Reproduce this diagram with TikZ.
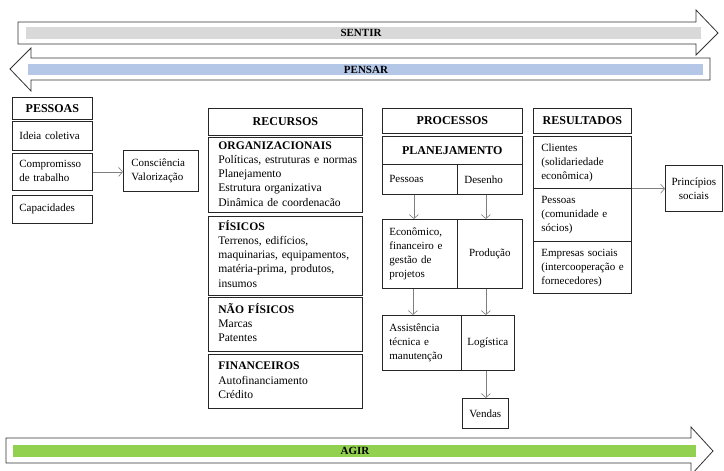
\documentclass[tikz,border=0pt]{standalone}
\usepackage{fontspec}
\setmainfont{Liberation Serif}
\usetikzlibrary{arrows.meta}
\definecolor{barGray}{HTML}{D9D9D9}
\definecolor{barBlue}{HTML}{B4C7E7}
\definecolor{barGreen}{HTML}{92D050}
\definecolor{lineGray}{HTML}{7F7F7F}
\newcommand\boxlines[1]{\begin{tabular}{@{}l@{}}#1\end{tabular}}
\begin{document}
\begin{tikzpicture}[x=1pt,y=-1pt,
  box/.style={draw=black!85, line width=0.7pt, rectangle, anchor=north west,
    inner ysep=0pt, font=\fontsize{11}{14}\selectfont},
  hd/.style={box, align=center, font=\bfseries\fontsize{12}{14}\selectfont},
  cbox/.style={box, align=center},
  lbox/.style={box, align=left, inner xsep=7pt},
  bigtxt/.style={font=\fontsize{11.6}{14.2}\selectfont},
  band/.style={draw=black!80, line width=0.8pt, fill=white},
  bandtxt/.style={font=\bfseries\fontsize{11}{12}\selectfont},
  arr/.style={draw=lineGray, line width=0.6pt, -{Straight Barb[length=4pt,width=9pt]}}
]
\clip (0,0) rectangle (724,471);
\fill[white] (0,0) rectangle (724,471);

% SENTIR band
\draw[band] (18,22) -- (696,22) -- (696,10) -- (718,33) -- (696,55) -- (696,44) -- (18,44) -- cycle;
\fill[barGray] (26,27) rectangle (701,39);
\node[bandtxt] (sentir) at (361,33) {SENTIR};

% PENSAR band
\draw[band] (710,58) -- (31,58) -- (31,48) -- (10,69) -- (31,91) -- (31,80) -- (710,80) -- cycle;
\fill[barBlue] (28,64) rectangle (703,75);
\node[bandtxt] (pensar) at (366,70) {PENSAR};

% AGIR band
\draw[band] (6,438) -- (691,438) -- (691,427) -- (713,451) -- (691,475) -- (691,463) -- (6,463) -- cycle;
\fill[barGreen] (13,445) rectangle (696,457);
\node[bandtxt] (agir) at (355,451) {AGIR};

% PESSOAS
\node[hd, minimum width=80, minimum height=22] (pH) at (12,97) {PESSOAS};
\node[lbox, text width=66, minimum height=29] (p1) at (12,121) {Ideia coletiva};
\node[lbox, text width=66, minimum height=37] (p2) at (12,153) {\boxlines{Compromisso\\de trabalho}};
\node[lbox, text width=66, minimum height=28] (p3) at (12,195) {Capacidades};
\node[lbox, inner xsep=8pt, text width=59, minimum height=41] (cons) at (123,150) {\boxlines{Consciência\\Valorização}};
\draw[arr] (p2.east) -- (p2.east -| cons.west);

% RECURSOS
\node[hd, minimum width=154, minimum height=27] (rH) at (208,108) {RECURSOS};
\node[lbox, bigtxt, inner xsep=10pt, text width=134, minimum height=75] (r1) at (208,137)
  {\boxlines{\textbf{ORGANIZACIONAIS}\\Políticas, estruturas e normas\\Planejamento\\Estrutura organizativa\\Dinâmica de coordenacão}};
\node[lbox, bigtxt, inner xsep=10pt, text width=134, minimum height=79] (r2) at (208,216)
  {\boxlines{\textbf{FÍSICOS}\\Terrenos, edifícios,\\maquinarias, equipamentos,\\matéria-prima, produtos,\\insumos}};
\node[lbox, bigtxt, inner xsep=10pt, text width=134, minimum height=54] (r3) at (208,297)
  {\boxlines{\textbf{NÃO FÍSICOS}\\Marcas\\Patentes}};
\node[lbox, bigtxt, inner xsep=10pt, text width=134, minimum height=54] (r4) at (208,354)
  {\boxlines{\textbf{FINANCEIROS}\\Autofinanciamento\\Crédito}};

% PROCESSOS
\node[hd, minimum width=140, minimum height=25] (cH) at (382,108) {PROCESSOS};
\node[hd, minimum width=140, minimum height=28] (c1) at (382,136) {PLANEJAMENTO};
\node[lbox, text width=61, minimum height=30] (c2) at (382,164) {Pessoas};
\node[lbox, text width=51, minimum height=30] (c3) at (457,164) {Desenho};
\node[lbox, text width=61, minimum height=69] (c4) at (382,219) {\boxlines{Econômico,\\financeiro e\\gestão de\\projetos}};
\node[cbox, minimum width=65, minimum height=69] (c5) at (457,219) {Produção};
\node[lbox, text width=65, minimum height=55] (c6) at (382,315) {\boxlines{Assistência\\técnica e\\manutenção}};
\node[cbox, minimum width=53, minimum height=55] (c7) at (461,315) {Logística};
\node[cbox, minimum width=46, minimum height=30] (c8) at (462,398) {Vendas};
\draw[arr] ([xshift=-6pt]c2.south) -- ([xshift=-6pt]c2.south |- c4.north);
\draw[arr] ([xshift=-4pt]c3.south) -- ([xshift=-4pt]c3.south |- c5.north);
\draw[arr] ([xshift=-7pt]c4.south) -- ([xshift=-7pt]c4.south |- c6.north);
\draw[arr] ([xshift=-4pt]c5.south) -- ([xshift=-4pt]c5.south |- c7.north);
\draw[arr] ([xshift=-2pt]c7.south) -- ([xshift=-2pt]c7.south |- c8.north);

% RESULTADOS
\node[hd, minimum width=98, minimum height=25] (sH) at (533,108) {RESULTADOS};
\node[lbox, inner xsep=8pt, text width=82, minimum height=52] (s1) at (533,136) {\boxlines{Clientes\\(solidariedade\\econômica)}};
\node[lbox, inner xsep=8pt, text width=82, minimum height=53] (s2) at (533,188) {\boxlines{Pessoas\\(comunidade e\\sócios)}};
\node[lbox, inner xsep=8pt, text width=82, minimum height=52] (s3) at (533,241) {\boxlines{Empresas sociais\\(intercooperação e\\fornecedores)}};
\node[cbox, minimum width=57, minimum height=46] (pr) at (665,165) {Princípios\\sociais};
\draw[arr] (s1.south east) -- (s1.south east -| pr.west);
\end{tikzpicture}
\end{document}
